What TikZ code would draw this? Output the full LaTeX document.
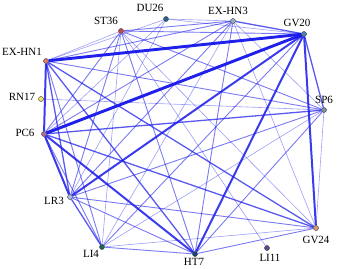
\documentclass[tikz,border=0pt]{standalone}
\usepackage{fontspec}
\setmainfont{Liberation Serif}
\usetikzlibrary{backgrounds}
\definecolor{eb}{RGB}{25,25,235}
\definecolor{cST}{RGB}{200,70,80}
\definecolor{cDU}{RGB}{40,100,140}
\definecolor{cHNt}{RGB}{150,175,205}
\definecolor{cGV}{RGB}{75,135,175}
\definecolor{cHNo}{RGB}{225,125,110}
\definecolor{cRN}{RGB}{240,225,100}
\definecolor{cPC}{RGB}{175,110,160}
\definecolor{cSP}{RGB}{130,145,165}
\definecolor{cLR}{RGB}{165,195,225}
\definecolor{cLIf}{RGB}{30,105,80}
\definecolor{cHT}{RGB}{25,70,120}
\definecolor{cLIe}{RGB}{90,75,140}
\definecolor{cGVt}{RGB}{210,160,110}
\tikzset{
  dot/.style={circle,draw=black!80,line width=0.4pt,inner sep=0pt,minimum size=5pt},
  lab/.style={font=\fontsize{11}{12}\selectfont,inner sep=0pt},
  wa/.style={draw=eb,line width=0.6pt,opacity=0.42},
  wb/.style={draw=eb,line width=0.9pt,opacity=0.58},
  wc/.style={draw=eb,line width=1.3pt,opacity=0.72},
  wd/.style={draw=eb,line width=2pt,opacity=0.85},
  we/.style={draw=eb,line width=2.9pt,opacity=0.97},
}
\begin{document}
\begin{tikzpicture}[x=1pt,y=-1pt]
\useasboundingbox (0,0) rectangle (339,268);
% nodes
\node[dot,fill=cST] (ST36) at (121,31) {};
\node[dot,fill=cDU] (DU26) at (166,19) {};
\node[dot,fill=cHNt] (HN3) at (233,21) {};
\node[dot,fill=cGV] (GV20) at (304,34) {};
\node[dot,fill=cHNo] (HN1) at (46,61) {};
\node[dot,fill=cRN] (RN17) at (41,99) {};
\node[dot,fill=cPC] (PC6) at (44,134) {};
\node[dot,fill=cSP] (SP6) at (324,110) {};
\node[dot,fill=cLR] (LR3) at (70,197) {};
\node[dot,fill=cLIf] (LI4) at (102,247) {};
\node[dot,fill=cHT] (HT7) at (195,254) {};
\node[dot,fill=cLIe] (LI11) at (267,248) {};
\node[dot,fill=cGVt] (GV24) at (316,228) {};
% labels
\node[lab] (tST36) at (106,21) {ST36};
\node[lab] (tDU26) at (150,8) {DU26};
\node[lab] (tHN3) at (228,11) {EX-HN3};
\node[lab] (tGV20) at (297,23) {GV20};
\node[lab] (tHN1) at (22,52) {EX-HN1};
\node[lab] (tRN17) at (22,97) {RN17};
\node[lab] (tPC6) at (25,133) {PC6};
\node[lab] (tSP6) at (324,100) {SP6};
\node[lab] (tLR3) at (54,201) {LR3};
\node[lab] (tLI4) at (91,254) {LI4};
\node[lab] (tHT7) at (194,262) {HT7};
\node[lab] (tLI11) at (270,258) {LI11};
\node[lab] (tGV24) at (316,240) {GV24};
\begin{pgfonlayer}{background}
% thin
\draw[wa] (GV20)--(DU26);
\draw[wa] (HN1)--(ST36);
\draw[wa] (HN1)--(DU26);
\draw[wa] (LI4)--(SP6);
\draw[wa] (LI4)--(GV24);
\draw[wa] (LI4)--(HN3);
\draw[wa] (LI4)--(ST36);
\draw[wa] (GV24)--(SP6);
\draw[wa] (GV24)--(HN3);
\draw[wa] (GV24)--(ST36);
\draw[wa] (SP6)--(HN3);
\draw[wa] (HN3)--(DU26);
\draw[wa] (DU26)--(LR3);
\draw[wa] (DU26)--(PC6);
\draw[wa] (RN17)--(SP6);
\draw[wa] (LI11)--(ST36);
% light
\draw[wb] (GV20)--(LI4);
\draw[wb] (GV20)--(ST36);
\draw[wb] (HN1)--(SP6);
\draw[wb] (HN1)--(LI4);
\draw[wb] (HN1)--(HN3);
\draw[wb] (PC6)--(LI4);
\draw[wb] (PC6)--(HN3);
\draw[wb] (PC6)--(ST36);
\draw[wb] (LR3)--(HT7);
\draw[wb] (LR3)--(GV24);
\draw[wb] (LR3)--(SP6);
\draw[wb] (LR3)--(HN3);
\draw[wb] (LR3)--(ST36);
\draw[wb] (HT7)--(LI4);
\draw[wb] (HT7)--(SP6);
\draw[wb] (HT7)--(GV24);
\draw[wb] (HT7)--(HN3);
\draw[wb] (HT7)--(ST36);
\draw[wb] (SP6)--(ST36);
\draw[wb] (HN3)--(ST36);
% medium
\draw[wc] (GV20)--(HN3);
\draw[wc] (GV20)--(SP6);
\draw[wc] (HN1)--(LR3);
\draw[wc] (HN1)--(HT7);
\draw[wc] (HN1)--(GV24);
\draw[wc] (PC6)--(SP6);
\draw[wc] (PC6)--(GV24);
\draw[wc] (LR3)--(LI4);
% thick
\draw[wd] (GV20)--(LR3);
\draw[wd] (GV20)--(HT7);
\draw[wd] (GV20)--(GV24);
\draw[wd] (HN1)--(PC6);
\draw[wd] (PC6)--(LR3);
\draw[wd] (PC6)--(HT7);
% very thick
\draw[we] (GV20)--(HN1);
\draw[we] (GV20)--(PC6);
\end{pgfonlayer}
\end{tikzpicture}
\end{document}
